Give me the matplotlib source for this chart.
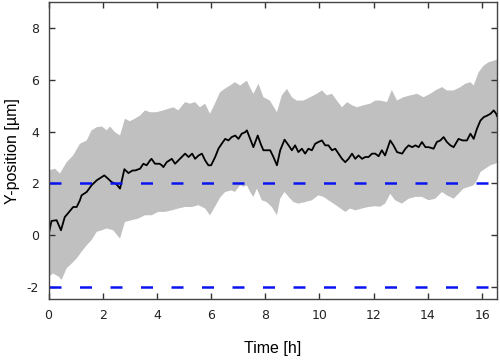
import matplotlib
matplotlib.use("Agg")
import matplotlib.pyplot as plt
import numpy as np

plt.rcParams["axes.unicode_minus"] = False

# mean Y-position track
t_mean = [0, 0.11, 0.3, 0.46, 0.6, 0.73, 0.91, 1.04, 1.16, 1.22, 1.41, 1.59, 1.78, 1.9, 2.06,
          2.2, 2.33, 2.5, 2.64, 2.8, 2.95, 3.1, 3.2, 3.38, 3.5, 3.62, 3.75, 3.8, 3.93, 4.1,
          4.18, 4.24, 4.36, 4.55, 4.67, 4.85, 5.04, 5.17, 5.3, 5.41, 5.54, 5.66, 5.78, 5.9, 6.0,
          6.15, 6.27, 6.39, 6.52, 6.64, 6.76, 6.89, 7.01, 7.13, 7.26, 7.32, 7.44, 7.56, 7.72, 7.84,
          7.93, 8.1, 8.18, 8.3, 8.43, 8.55, 8.71, 8.86, 8.98, 9.1, 9.22, 9.35, 9.47, 9.59, 9.72,
          9.84, 9.96, 10.09, 10.21, 10.33, 10.46, 10.58, 10.7, 10.83, 10.95, 11.07, 11.2, 11.32, 11.44, 11.57,
          11.69, 11.81, 11.94, 12.06, 12.18, 12.3, 12.42, 12.61, 12.73, 12.86, 13.05, 13.17, 13.29, 13.42, 13.54,
          13.66, 13.78, 13.91, 14.03, 14.21, 14.33, 14.46, 14.58, 14.7, 14.83, 14.95, 15.13, 15.28, 15.44, 15.57,
          15.69, 15.81, 15.94, 16.06, 16.19, 16.31, 16.43, 16.52, 16.55]
y_mean = [0, 0.55, 0.58, 0.19, 0.7, 0.86, 1.09, 1.09, 1.35, 1.54, 1.67, 1.93, 2.12, 2.2, 2.31,
          2.18, 2.05, 1.98, 1.8, 2.55, 2.4, 2.5, 2.5, 2.57, 2.76, 2.7, 2.89, 2.95, 2.76, 2.76,
          2.7, 2.63, 2.82, 2.95, 2.76, 2.95, 3.15, 3.02, 3.15, 2.95, 3.08, 3.15, 2.89, 2.7, 2.7,
          3.02, 3.34, 3.53, 3.72, 3.66, 3.79, 3.85, 3.72, 3.92, 3.98, 4.05, 3.72, 3.4, 3.85, 3.5,
          3.28, 3.28, 3.28, 3.02, 2.7, 3.28, 3.69, 3.47, 3.28, 3.47, 3.21, 3.34, 3.15, 3.34, 3.28,
          3.53, 3.6, 3.66, 3.47, 3.47, 3.28, 3.34, 3.15, 2.95, 2.82, 2.95, 3.15, 2.95, 3.08, 2.95,
          3.02, 3.02, 3.15, 3.15, 3.05, 3.28, 3.08, 3.66, 3.47, 3.21, 3.15, 3.34, 3.47, 3.4, 3.47,
          3.4, 3.6, 3.4, 3.4, 3.34, 3.6, 3.66, 3.79, 3.6, 3.47, 3.4, 3.72, 3.66, 3.66, 3.92,
          3.72, 4.11, 4.43, 4.56, 4.62, 4.69, 4.82, 4.69, 4.6]

# upper edge of the spread
t_up = [0, 0.24, 0.42, 0.67, 0.91, 1.16, 1.41, 1.59, 1.78, 1.97, 2.15, 2.27, 2.45, 2.64, 2.82,
        3.0, 3.19, 3.38, 3.56, 3.75, 3.99, 4.24, 4.42, 4.61, 4.79, 5.04, 5.22, 5.41, 5.59, 5.78,
        5.96, 6.14, 6.33, 6.51, 6.7, 6.88, 7.07, 7.32, 7.44, 7.56, 7.75, 7.93, 8.17, 8.43, 8.61,
        8.8, 8.98, 9.16, 9.41, 9.66, 9.9, 10.09, 10.27, 10.46, 10.64, 10.83, 11.02, 11.2, 11.38, 11.63,
        11.87, 12.06, 12.24, 12.49, 12.67, 12.86, 13.1, 13.35, 13.6, 13.84, 14.09, 14.27, 14.52, 14.7, 14.95,
        15.2, 15.38, 15.57, 15.69, 15.87, 16.06, 16.24, 16.43, 16.6]
y_up = [2.5, 2.57, 2.38, 2.82, 3.08, 3.53, 3.66, 4.05, 4.17, 4.2, 4.05, 4.2, 3.98, 3.85, 4.5,
        4.4, 4.5, 4.62, 4.82, 4.75, 4.75, 4.82, 4.88, 4.94, 4.82, 5.14, 5.08, 5.14, 4.94, 5.08,
        4.69, 5.08, 5.52, 5.66, 5.78, 5.91, 5.78, 5.97, 5.7, 5.46, 5.85, 5.33, 5.2, 4.75, 5.4,
        5.65, 5.33, 5.2, 5.2, 5.33, 5.46, 5.59, 5.4, 5.46, 5.2, 4.94, 5.14, 5.02, 4.94, 5.02,
        5.08, 5.2, 5.2, 5.14, 5.61, 5.2, 5.33, 5.4, 5.46, 5.33, 5.46, 5.59, 5.72, 5.59, 5.59,
        5.72, 5.85, 5.91, 5.78, 6.29, 6.55, 6.68, 6.74, 6.8]

# lower edge of the spread
t_lo = [0, 0.17, 0.39, 0.48, 0.67, 0.86, 1.04, 1.22, 1.41, 1.59, 1.78, 1.97, 2.15, 2.39, 2.64,
        2.82, 3.07, 3.31, 3.56, 3.81, 4.05, 4.3, 4.55, 4.79, 5.04, 5.29, 5.53, 5.78, 5.96, 6.14,
        6.33, 6.52, 6.76, 6.88, 7.07, 7.2, 7.32, 7.44, 7.56, 7.69, 7.87, 8.05, 8.24, 8.43, 8.55,
        8.71, 8.86, 9.04, 9.22, 9.47, 9.72, 9.96, 10.15, 10.33, 10.52, 10.7, 10.95, 11.13, 11.32, 11.57,
        11.81, 12.06, 12.24, 12.42, 12.61, 12.79, 13.04, 13.29, 13.54, 13.78, 14.03, 14.27, 14.52, 14.7, 14.95,
        15.13, 15.31, 15.5, 15.69, 15.81, 15.94, 16.12, 16.31, 16.49, 16.6]
y_lo = [-1.6, -1.48, -1.61, -1.73, -1.28, -1.09, -0.9, -0.64, -0.39, -0.19, 0.13, 0.19, 0.26, 0.19, -0.13,
        0.51, 0.58, 0.64, 0.77, 0.77, 0.9, 0.9, 0.96, 1.03, 1.09, 1.09, 1.16, 1.03, 0.77, 1.09,
        1.45, 1.67, 1.73, 1.67, 1.93, 1.87, 1.93, 1.67, 1.48, 1.8, 1.35, 1.28, 1.09, 0.77, 1.41,
        1.67, 1.48, 1.28, 1.22, 1.28, 1.35, 1.54, 1.48, 1.35, 1.22, 1.09, 0.9, 1.03, 0.96, 1.03,
        1.09, 1.12, 1.1, 1.22, 1.6, 1.35, 1.22, 1.41, 1.48, 1.48, 1.35, 1.41, 1.67, 1.54, 1.41,
        1.6, 1.8, 1.86, 1.93, 2.12, 2.44, 2.57, 2.7, 2.76, 2.83]

bounds = [2, -2]
xticks = [0, 2, 4, 6, 8, 10, 12, 14, 16]
yticks = [-2, 0, 2, 4, 6, 8]

fig = plt.figure(figsize=(5, 3.6), dpi=100)
ax = fig.add_axes([0.097, 0.169, 0.897, 0.825])

band_t = np.concatenate([t_up, t_lo[::-1]])
band_y = np.concatenate([y_up, y_lo[::-1]])
ax.fill(band_t, band_y, color="#c0c0c0", lw=0)
ax.plot(t_mean, y_mean, color="black", lw=1.3)
for b in bounds:
    ax.axhline(b, color="#0a14f0", lw=1.8, ls=(0, (4.8, 7.4)))

ax.set_xlim(0, 16.55)
ax.set_ylim(-2.47, 9)
ax.set_xticks(xticks)
ax.set_yticks(yticks)
ax.tick_params(direction="in", top=True, right=True, length=4, width=1,
               labelsize=9, colors="#333333", labelcolor="#222222", pad=7)
for s in ax.spines.values():
    s.set_color("#444444")
    s.set_linewidth(1)

ax.set_xlabel("Time [h]", family="Liberation Sans", fontsize=11.5, labelpad=14)
ax.set_ylabel("Y-position [µm]", family="Liberation Sans", fontsize=11.5)
ax.yaxis.set_label_coords(-0.064, 0.5)

fig.savefig("out.png", dpi=100)
